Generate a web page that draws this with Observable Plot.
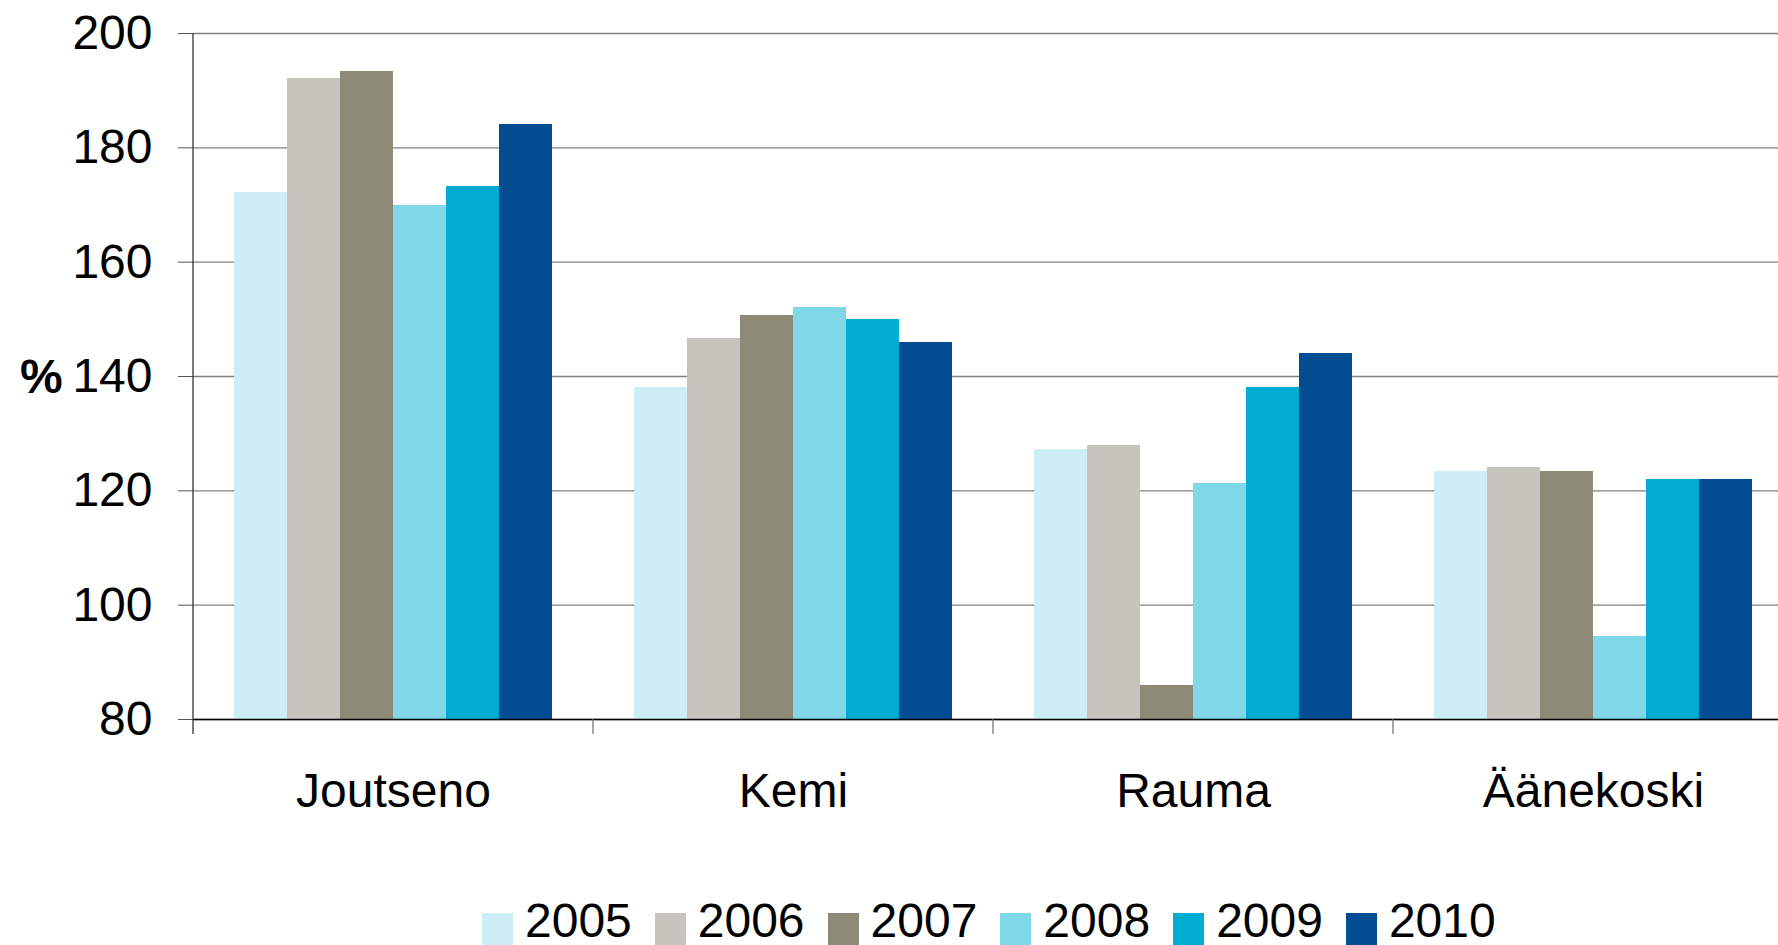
<!DOCTYPE html>
<html><head><meta charset="utf-8">
<script src="https://cdn.jsdelivr.net/npm/d3@7"></script>
<script src="https://cdn.jsdelivr.net/npm/@observablehq/plot@0.6"></script>
<style>
html,body{margin:0;padding:0;background:#fff;overflow:hidden;}
#wrap{position:relative;width:1778px;height:945px;overflow:hidden;font-family:"Liberation Sans",Arial,sans-serif;}
#chart{position:absolute;left:0;top:0;width:1793px;}
#chart svg{max-width:none !important;}
#legend{position:absolute;left:482px;top:893px;}
.lg-swatches{font-family:"Liberation Sans",Arial,sans-serif;font-size:48px;margin:0;color:#000;}
.lg-swatches-wrap{min-height:0;flex-wrap:nowrap;}
.lg-swatch{margin-right:23px;}
.lg-swatch > svg{margin-right:12px;position:relative;top:9px;}
</style></head><body><div id="wrap"><div id="chart"></div><div id="legend"></div></div>
<script>
const cities = ["Joutseno", "Kemi", "Rauma", "Äänekoski"];
const years = ["2005", "2006", "2007", "2008", "2009", "2010"];
const v2005 = [172.1, 138.1, 127.3, 123.4];
const v2006 = [192.1, 146.7, 128.0, 124.0];
const v2007 = [193.3, 150.6, 85.9, 123.3];
const v2008 = [169.9, 152.0, 121.2, 94.6];
const v2009 = [173.2, 149.9, 138.1, 122.0];
const v2010 = [184.0, 146.0, 144.0, 122.0];
const yTicks = [80, 100, 120, 140, 160, 180, 200];
const colors = ["#cdeef5", "#c5c5bd", "#8d8a78", "#80d7e8", "#00acd2", "#004d92"];
const yLabel = "%";

const series = [v2005, v2006, v2007, v2008, v2009, v2010];
const data = [];
cities.forEach((c, j) => years.forEach((y, i) => data.push({city: c, year: y, value: series[i][j]})));

const W = 1793, H = 830, ML = 193, MR = 0, MT = 33, MB = 111;
const FONT = '"Liberation Sans", Arial, sans-serif';

const chart = Plot.plot({
  width: W, height: H, marginLeft: ML, marginRight: MR, marginTop: MT, marginBottom: MB,
  style: {fontFamily: FONT, fontSize: "48px", color: "#000", background: "transparent", overflow: "visible", maxWidth: "none"},
  fx: {domain: cities, padding: 0, label: null},
  x: {domain: years, paddingInner: 0, paddingOuter: 0.75, axis: null},
  y: {domain: [80, 200], label: null},
  color: {domain: years, range: colors},
  marks: [
    Plot.gridY(yTicks, {stroke: "#808080", strokeOpacity: 1, strokeWidth: 1.3}),
    Plot.barY(data, {fx: "city", x: "year", y1: 80, y2: "value", fill: "year", shapeRendering: "crispEdges"}),
    Plot.ruleY([80], {stroke: "#000", strokeWidth: 1.6}),
    Plot.axisY(yTicks, {tickSize: 15, tickPadding: 26, stroke: "#555", fontSize: 48, label: null}),
    Plot.axisFx({anchor: "bottom", tickSize: 0, tickPadding: 53, fontSize: 48, label: null})
  ]
});
document.getElementById("chart").appendChild(chart);

// axis line, category boundary ticks and the "%" label, positioned from Plot's scales
const svg = d3.select(chart);
const fxs = chart.scale("fx");
const ys = chart.scale("y");
const fxRange = fxs.range;
const bounds = cities.map(c => fxs.apply(c)).concat([fxRange[1]]);
const y0 = ys.apply(80), y1 = ys.apply(200);
const g = svg.append("g");
g.append("line").attr("x1", fxRange[0]).attr("x2", fxRange[0]).attr("y1", y1).attr("y2", y0 + 15)
  .attr("stroke", "#333").attr("stroke-width", 1.3);
g.selectAll("line.b").data(bounds.slice(1)).join("line").attr("class", "b")
  .attr("x1", d => d).attr("x2", d => d).attr("y1", y0).attr("y2", y0 + 15)
  .attr("stroke", "#777").attr("stroke-width", 1.3);
g.append("text").text(yLabel).attr("x", 20).attr("y", (y0 + y1) / 2).attr("dy", "0.35em")
  .attr("text-anchor", "start")
  .attr("font-weight", "bold").attr("font-size", 48).attr("font-family", FONT).attr("fill", "#000");

const legend = Plot.legend({
  color: {domain: years, range: colors},
  legend: "swatches", swatchWidth: 31, swatchHeight: 34, className: "lg"
});
document.getElementById("legend").appendChild(legend);
</script></body></html>
